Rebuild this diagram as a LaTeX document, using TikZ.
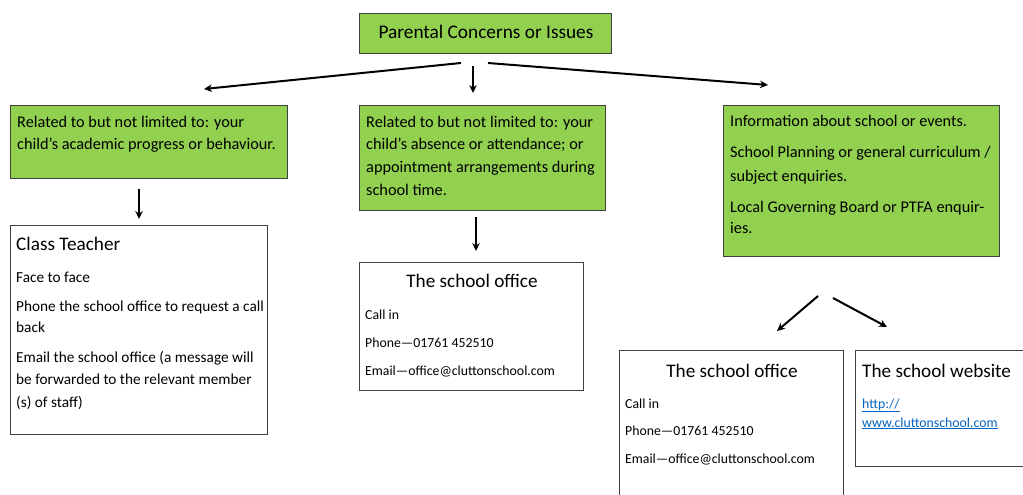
\documentclass[tikz,border=0pt]{standalone}
\usepackage{fontspec}
\setmainfont{Carlito}
\usetikzlibrary{arrows.meta}
\definecolor{boxgreen}{RGB}{146,208,80}
\definecolor{edge}{RGB}{64,64,64}
\definecolor{linkblue}{RGB}{5,99,193}
\newcommand{\greenfont}{\fontsize{16.3}{19}\selectfont}
\newcommand{\ctfont}{\fontsize{15.3}{18}\selectfont}
\newcommand{\offfont}{\fontsize{13.8}{16}\selectfont}
\newcommand{\headfont}{\fontsize{19.2}{23}\selectfont}
\tikzset{
  gbox/.style={draw=edge, fill=boxgreen, line width=1.3pt, rectangle, inner sep=0pt, anchor=north west},
  wbox/.style={draw=edge, fill=white, line width=1.3pt, rectangle, inner sep=0pt, anchor=north west},
  gtxt/.style={inner sep=0pt, anchor=base west, font=\greenfont, text=black},
  cttxt/.style={inner sep=0pt, anchor=base west, font=\ctfont, text=black},
  otxt/.style={inner sep=0pt, anchor=base west, font=\offfont, text=black},
  head/.style={inner sep=0pt, anchor=base west, font=\headfont, text=black},
  headc/.style={inner sep=0pt, anchor=base, font=\headfont, text=black},
  lnk/.style={inner sep=0pt, anchor=base west, font=\offfont, text=linkblue},
  arr/.style={line width=2pt, -{Stealth[length=8pt,width=7.5pt]}},
}
\begin{document}
\begin{tikzpicture}[x=1pt,y=-1pt]
\useasboundingbox (0,0) rectangle (1023,495);
\clip (0,0) rectangle (1023,495);
% top box
\node[gbox, minimum width=252pt, minimum height=40pt] (top) at (359,13) {};
\node[inner sep=0pt, anchor=base, font=\fontsize{19.3}{23}\selectfont] (toptxt) at (486,39) {Parental Concerns or Issues};
% green boxes
\node[gbox, minimum width=277pt, minimum height=73pt] (ga) at (10,105) {};
\node[gtxt] (ga1) at (17,127) {Related to but not limited to: your};
\node[gtxt] (ga2) at (17,149.5) {child’s academic progress or behaviour.};
\node[gbox, minimum width=246pt, minimum height=105pt] (gb) at (359,105) {};
\node[gtxt] (gb1) at (366,127) {Related to but not limited to: your};
\node[gtxt] (gb2) at (366,149.5) {child’s absence or attendance; or};
\node[gtxt] (gb3) at (366,172.5) {appointment arrangements during};
\node[gtxt] (gb4) at (366,195) {school time.};
\node[gbox, minimum width=276pt, minimum height=151pt] (gc) at (723,105) {};
\node[gtxt] (gc1) at (730,126) {Information about school or events.};
\node[gtxt] (gc2) at (730,157) {School Planning or general curriculum /};
\node[gtxt] (gc3) at (730,181) {subject enquiries.};
\node[gtxt] (gc4) at (730,212) {Local Governing Board or PTFA enquir-};
\node[gtxt] (gc5) at (730,233.5) {ies.};
% class teacher
\node[wbox, minimum width=257pt, minimum height=209pt] (ct) at (10,225) {};
\node[head] (ct0) at (16,250) {Class Teacher};
\node[cttxt] (ct1) at (16,282) {Face to face};
\node[cttxt] (ct2) at (16,311) {Phone the school office to request a call};
\node[cttxt] (ct3) at (16,332.5) {back};
\node[cttxt] (ct4) at (16,362) {Email the school office (a message will};
\node[cttxt] (ct5) at (16,384) {be forwarded to the relevant member};
\node[cttxt] (ct6) at (16,407) {(s) of staff)};
% office 1
\node[wbox, minimum width=224pt, minimum height=128pt] (of1) at (359,262) {};
\node[headc] (of1t) at (472,287) {The school office};
\node[otxt] (of11) at (365,319) {Call in};
\node[otxt] (of12) at (365,347) {Phone—01761 452510};
\node[otxt] (of13) at (365,375) {Email—office@cluttonschool.com};
% office 2
\node[wbox, minimum width=224pt, minimum height=160pt] (of2) at (619,350) {};
\node[headc] (of2t) at (732,377) {The school office};
\node[otxt] (of21) at (625,408) {Call in};
\node[otxt] (of22) at (625,435) {Phone—01761 452510};
\node[otxt] (of23) at (625,463) {Email—office@cluttonschool.com};
% website
\node[wbox, minimum width=190pt, minimum height=116pt] (web) at (855,350) {};
\node[head] (webt) at (862,377) {The school website};
\node[lnk] (web1) at (862,408) {\underline{http://}};
\node[lnk] (web2) at (862,427) {\underline{www.cluttonschool.com}};
% arrow end points
\coordinate (t1s) at (461,63);  \coordinate (t1e) at (204,89);
\coordinate (t2s) at (473,66);  \coordinate (t2e) at (473,93);
\coordinate (t3s) at (488,63);  \coordinate (t3e) at (768,85);
\coordinate (as) at (139,189);  \coordinate (ae) at (139,219);
\coordinate (bs) at (476,217);  \coordinate (be) at (476,251);
\coordinate (c1s) at (818,296); \coordinate (c1e) at (777,331);
\coordinate (c2s) at (833,298); \coordinate (c2e) at (887,327);
\draw[arr] (t1s) -- (t1e);
\draw[arr] (t2s) -- (t2e);
\draw[arr] (t3s) -- (t3e);
\draw[arr] (as) -- (ae);
\draw[arr] (bs) -- (be);
\draw[arr] (c1s) -- (c1e);
\draw[arr] (c2s) -- (c2e);
\end{tikzpicture}
\end{document}
